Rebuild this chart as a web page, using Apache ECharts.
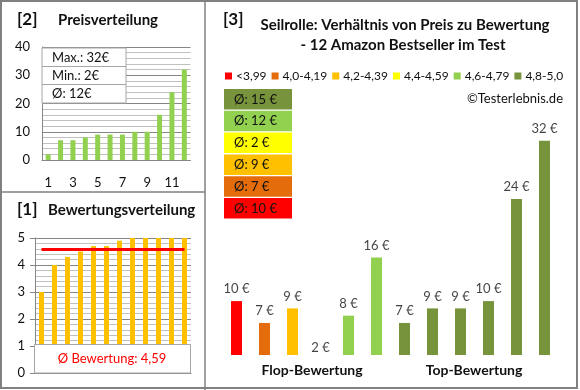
<!DOCTYPE html>
<html>
<head>
<meta charset="utf-8">
<script src="https://cdn.jsdelivr.net/npm/echarts@6/dist/echarts.min.js"></script>
<style>html,body{margin:0;padding:0;background:#fff;}#c{width:580px;height:390px;}</style>
</head>
<body>
<div id="c"></div>
<script>
// ---- data ----
var priceCats = ['1','2','3','4','5','6','7','8','9','10','11','12'];
var prices = [2, 7, 7, 8, 9, 9, 9, 10, 10, 16, 24, 32];
var ratings = [3.0, 4.0, 4.3, 4.5, 4.7, 4.7, 4.9, 5, 5, 5, 5, 5];
var avgRating = 4.59;
var statLabels = ['Max.: 32€', 'Min.: 2€', 'Ø: 12€'];
var ratingLabel = 'Ø Bewertung: 4,59';
var p3Cats = ['1','2','3','4','5','6','7','8','9','10','11','12'];
var p3Prices = [10, 7, 9, 2, 8, 16, 7, 9, 9, 10, 24, 32];
var p3Class = [0, 1, 2, 3, 4, 4, 5, 5, 5, 5, 5, 5];
var classNames = ['<3,99', '4,0-4,19', '4,2-4,39', '4,4-4,59', '4,6-4,79', '4,8-5,0'];
var classColors = ['#FF0000', '#E46C0A', '#FFC000', '#FFFF00', '#92D050', '#77933C'];
var avgBoxClass = [5, 4, 3, 2, 1, 0];
var avgBoxLabels = ['Ø: 15 €', 'Ø: 12 €', 'Ø: 2 €', 'Ø: 9 €', 'Ø: 7 €', 'Ø: 10 €'];
var groupLabels = ['Flop-Bewertung', 'Top-Bewertung'];
var title3 = ['Seilrolle: Verhältnis von Preis zu Bewertung', '- 12 Amazon Bestseller im Test'];

var FF = 'Lato, "Open Sans", sans-serif';
var chart = echarts.init(document.getElementById('c'), null, {renderer: 'canvas'});

function txt(t, x, y, size, weight, color, align) {
  return {type: 'text', x: x, y: y, z: 200,
    style: {text: t, font: (weight || 'normal') + ' ' + size + 'px ' + FF, fill: color || '#111',
      textAlign: align || 'left', textVerticalAlign: 'middle', align: align || 'left', verticalAlign: 'middle'}};
}

var graphics = [];
// frames
graphics.push({type: 'rect', z: 150, shape: {x: 1, y: 1, width: 576, height: 387}, style: {fill: 'none', stroke: '#808080', lineWidth: 2}});
graphics.push({type: 'line', z: 150, shape: {x1: 205, y1: 0, x2: 205, y2: 390}, style: {stroke: '#808080', lineWidth: 1.5}});
graphics.push({type: 'line', z: 150, shape: {x1: 0, y1: 192, x2: 205, y2: 192}, style: {stroke: '#808080', lineWidth: 1.5}});
// titles
graphics.push(txt('[2]', 17, 20, 17, 'bold', '#111'));
graphics.push(txt('Preisverteilung', 58, 20, 15, 'bold', '#111'));
graphics.push(txt('[1]', 17, 210, 17, 'bold', '#111'));
graphics.push(txt('Bewertungsverteilung', 48, 210, 15, 'bold', '#111'));
graphics.push(txt('[3]', 223, 20, 17, 'bold', '#111'));
graphics.push(txt(title3[0], 405, 25, 15, 'bold', '#111', 'center'));
graphics.push(txt(title3[1], 403, 45, 15, 'bold', '#111', 'center'));
graphics.push(txt('©Testerlebnis.de', 563, 99, 13, 'normal', '#111', 'right'));
graphics.push(txt(groupLabels[0], 312, 370, 14, 'bold', '#111', 'center'));
graphics.push(txt(groupLabels[1], 474, 370, 14, 'bold', '#111', 'center'));
// stats box (panel 2)
graphics.push({type: 'rect', z: 120, shape: {x: 42, y: 48, width: 84, height: 55}, style: {fill: '#fff', stroke: '#a6a6a6', lineWidth: 1}});
graphics.push({type: 'line', z: 121, shape: {x1: 42, y1: 66.5, x2: 126, y2: 66.5}, style: {stroke: '#a6a6a6', lineWidth: 1}});
graphics.push({type: 'line', z: 121, shape: {x1: 42, y1: 84.5, x2: 126, y2: 84.5}, style: {stroke: '#a6a6a6', lineWidth: 1}});
statLabels.forEach(function (s, i) { graphics.push(txt(s, 52, 57.5 + i * 18.3, 13, 'normal', '#111')); });
// rating box (panel 1)
graphics.push({type: 'rect', z: 120, shape: {x: 34.5, y: 344.5, width: 156, height: 28.5}, style: {fill: '#fff', stroke: '#a6a6a6', lineWidth: 1}});
graphics.push(txt(ratingLabel, 112, 358.5, 13, 'normal', '#FF0000', 'center'));
// average boxes (panel 3)
avgBoxLabels.forEach(function (s, i) {
  var y = 89 + i * 21.8;
  graphics.push({type: 'rect', z: 120, shape: {x: 224, y: y, width: 68, height: 20.5}, style: {fill: classColors[avgBoxClass[i]]}});
  graphics.push(txt(s, 234, y + 10.5, 13, 'normal', '#111'));
});

var series = [
  {type: 'bar', xAxisIndex: 0, yAxisIndex: 0, data: prices, barWidth: 5, itemStyle: {color: '#92D050'}, silent: true},
  {type: 'bar', xAxisIndex: 1, yAxisIndex: 1, data: ratings, barWidth: 5, itemStyle: {color: '#FFC000'}, silent: true,
    markLine: {silent: true, symbol: 'none', label: {show: false}, lineStyle: {color: '#FF0000', width: 3, type: 'solid'},
      data: [[{coord: [0, avgRating]}, {coord: [11, avgRating]}]]}},
  {type: 'bar', xAxisIndex: 2, yAxisIndex: 2, barWidth: 11, clip: true, silent: true,
    data: p3Prices.map(function (v, i) { return {value: v, itemStyle: {color: classColors[p3Class[i]]}}; })},
  {type: 'scatter', xAxisIndex: 2, yAxisIndex: 2, clip: false, symbolSize: 1, itemStyle: {color: 'rgba(0,0,0,0)'}, silent: true,
    data: p3Prices,
    label: {show: true, position: 'top', distance: 5, color: '#111', fontSize: 13, fontFamily: FF,
      formatter: function (p) { return p.value + ' €'; }}}
];
classNames.forEach(function (n, i) {
  series.push({type: 'line', name: n, xAxisIndex: 2, yAxisIndex: 2, data: [], itemStyle: {color: classColors[i]}, lineStyle: {color: classColors[i]}});
});

var axisLbl = {color: '#111', fontSize: 13, fontFamily: FF};
chart.setOption({
  animation: false,
  textStyle: {fontFamily: FF},
  legend: {data: classNames, left: 225, top: 70, width: 400, icon: 'rect', itemWidth: 7, itemHeight: 7, itemGap: 5, padding: 0,
    textStyle: {fontSize: 12, color: '#111', fontFamily: FF, padding: [0, 0, 0, -1]}, selectedMode: false},
  grid: [
    {left: 42, width: 148.5, top: 47, height: 113},
    {left: 35, width: 156, top: 238, height: 135},
    {left: 222.5, width: 336, top: 119, height: 236}
  ],
  xAxis: [
    {gridIndex: 0, type: 'category', data: priceCats, axisTick: {show: false},
      axisLine: {lineStyle: {color: '#868686'}}, axisLabel: Object.assign({interval: 1, margin: 16}, axisLbl)},
    {gridIndex: 1, type: 'category', data: priceCats, axisTick: {show: false}, axisLabel: {show: false},
      axisLine: {lineStyle: {color: '#868686'}}},
    {gridIndex: 2, type: 'category', data: p3Cats, show: false}
  ],
  yAxis: [
    {gridIndex: 0, type: 'value', min: 0, max: 40, interval: 10,
      axisLine: {show: true, lineStyle: {color: '#868686'}}, axisTick: {show: false},
      axisLabel: Object.assign({margin: 12}, axisLbl),
      splitLine: {lineStyle: {color: '#868686'}},
      minorTick: {show: false, splitNumber: 5}, minorSplitLine: {show: true, lineStyle: {color: '#c0c0c0'}}},
    {gridIndex: 1, type: 'value', min: 0, max: 5, interval: 1,
      axisLine: {show: true, lineStyle: {color: '#868686'}}, axisTick: {show: true, length: 5, lineStyle: {color: '#868686'}},
      axisLabel: Object.assign({margin: 10}, axisLbl),
      splitLine: {lineStyle: {color: '#868686'}},
      minorTick: {show: false, splitNumber: 5}, minorSplitLine: {show: true, lineStyle: {color: '#c0c0c0'}}},
    {gridIndex: 2, type: 'value', min: 2.6, max: 35, show: false, splitLine: {show: false}}
  ],
  graphic: graphics,
  series: series
});
</script>
</body>
</html>
